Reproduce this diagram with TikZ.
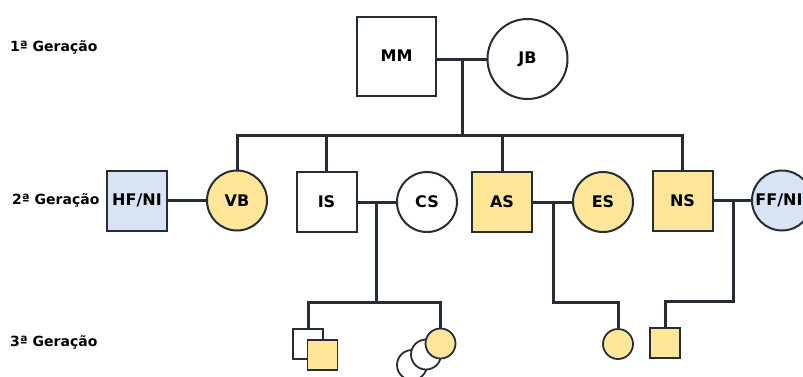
\documentclass[tikz,border=0pt]{standalone}
\usepackage{fontspec}
\setmainfont{DejaVu Sans}
\definecolor{linec}{RGB}{38,45,54}
\definecolor{affect}{RGB}{255,230,153}
\definecolor{inlaw}{RGB}{218,227,243}
\tikzset{
  person/.style={draw=linec, line width=2pt, inner sep=0pt, fill=white,
    font=\fontsize{16}{19}\selectfont\bfseries},
  male/.style={person, rectangle, minimum size=60pt},
  female/.style={person, circle, minimum size=60pt},
  kid/.style={minimum size=30pt, line width=1.8pt},
  link/.style={draw=linec, line width=3pt},
  gen/.style={anchor=base west, inner sep=0pt, font=\fontsize{14}{17}\selectfont\bfseries}
}
\begin{document}
\begin{tikzpicture}[x=1pt,y=-1pt]
\useasboundingbox (0,0) rectangle (803,376);
\clip (0,0) rectangle (803,376);

% generation labels
\node[gen] (g1) at (10,51) {1ª Geração};
\node[gen] (g2) at (12,204) {2ª Geração};
\node[gen] (g3) at (10,346) {3ª Geração};

% first generation
\node[male, minimum size=79pt] (MM) at (396.5,56) {MM};
\node[female, minimum size=80pt] (JB) at (527.5,59) {JB};

% second generation
\node[male, fill=inlaw] (HF) at (137,200.5) {HF/NI};
\node[female, fill=affect] (VB) at (237,200.5) {VB};
\node[male] (IS) at (326.5,202) {IS};
\node[female] (CS) at (427,202) {CS};
\node[male, fill=affect] (AS) at (502,202) {AS};
\node[female, fill=affect] (ES) at (603,202) {ES};
\node[male, fill=affect] (NS) at (682.5,200.5) {NS};
\node[female, fill=inlaw] (FF) at (782,200.5) {\kern-6pt FF/NI};

% third generation
\node[male, kid] (k1) at (308,344) {};
\node[male, kid, fill=affect] (k2) at (322.5,355) {};
\node[female, kid] (k5) at (412,365) {};
\node[female, kid] (k4) at (426,354.5) {};
\node[female, kid, fill=affect] (k3) at (440.5,343.5) {};
\node[female, kid, fill=affect] (k6) at (618,344) {};
\node[male, kid, fill=affect] (k7) at (665,343) {};

% junction points
\coordinate (m1) at (462,59);
\coordinate (s1) at (462,135.5);
\coordinate (m2) at (376,202);
\coordinate (s2) at (376,302);
\coordinate (m3) at (553,202);
\coordinate (s3) at (553,302);
\coordinate (m4) at (733,200.5);
\coordinate (s4) at (733,301);

% couples and descent lines
\draw[link] (MM.east |- m1) -- (JB.west |- m1);
\draw[link] (m1) -- (s1);
\draw[link] (VB.north) -- (VB.north |- s1) -- (NS.north |- s1) -- (NS.north);
\draw[link] (IS.north) -- (IS.north |- s1);
\draw[link] (AS.north) -- (AS.north |- s1);

\draw[link] (HF.east) -- (VB.west);
\draw[link] (IS.east) -- (CS.west);
\draw[link] (m2) -- (s2);
\draw[link] (k1.north) -- (k1.north |- s2) -- (k3.north |- s2) -- (k3.north);

\draw[link] (AS.east) -- (ES.west);
\draw[link] (m3) -- (s3) -- (k6.north |- s3) -- (k6.north);

\draw[link] (NS.east) -- (FF.west);
\draw[link] (m4) -- (s4) -- (k7.north |- s4) -- (k7.north);
\end{tikzpicture}
\end{document}
